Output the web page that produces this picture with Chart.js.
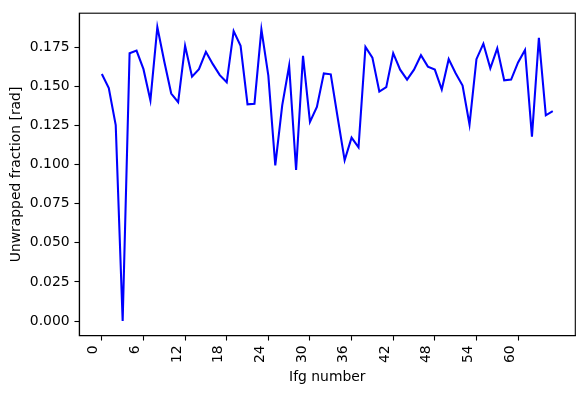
<!DOCTYPE html>
<html>
<head>
<meta charset="utf-8">
<script src="https://cdn.jsdelivr.net/npm/chart.js@4/dist/chart.umd.min.js"></script>
<style>
  html, body { margin: 0; padding: 0; background: #fff; }
  #c { display: block; }
</style>
</head>
<body>
<canvas id="c" width="584" height="393"></canvas>
<script>
// Unwrapped fraction per interferogram (index = ifg number)
const unwrappedFraction = [
  0.158, 0.149, 0.1253, 0.000, 0.1713, 0.1730, 0.1611, 0.1411, 0.188, 0.166,
  0.1455, 0.140, 0.176, 0.1563, 0.1611, 0.1722, 0.1643, 0.1573, 0.1527, 0.1854,
  0.176, 0.1386, 0.139, 0.1865, 0.157, 0.0996, 0.138, 0.1633, 0.0966, 0.1696,
  0.1274, 0.1369, 0.1584, 0.1578, 0.130, 0.1028, 0.1173, 0.1111, 0.1753, 0.1685,
  0.1468, 0.1496, 0.1713, 0.1608, 0.1544, 0.1608, 0.170, 0.1627, 0.1608, 0.1481,
  0.1675, 0.1585, 0.1506, 0.1257, 0.1675, 0.1774, 0.1616, 0.1744, 0.154, 0.1544,
  0.1654, 0.1734, 0.1179, 0.1812, 0.1316, 0.1342
];
const xTickValues = [0, 6, 12, 18, 24, 30, 36, 42, 48, 54, 60];
const yTickValues = [0, 0.025, 0.05, 0.075, 0.1, 0.125, 0.15, 0.175];
const xTitle = 'Ifg number';
const yTitle = 'Unwrapped fraction [rad]';

const points = unwrappedFraction.map((v, i) => ({ x: i, y: v }));

const FONT = { family: 'DejaVu Sans', size: 13.9 };

const framePlugin = {
  id: 'frame',
  afterDatasetsDraw(chart) {
    const { ctx, chartArea: a } = chart;
    ctx.save();
    ctx.strokeStyle = '#000';
    ctx.lineWidth = 1.1;
    ctx.strokeRect(a.left, a.top, a.right - a.left, a.bottom - a.top);
    ctx.restore();
  }
};

new Chart(document.getElementById('c'), {
  type: 'line',
  data: {
    datasets: [{
      data: points,
      borderColor: '#0000ff',
      borderWidth: 2.08,
      pointRadius: 0,
      tension: 0,
      fill: false
    }]
  },
  options: {
    responsive: false,
    animation: false,
    devicePixelRatio: 1,
    layout: { padding: { left: 0, top: 10.7, right: 8.7, bottom: 0 } },
    plugins: { legend: { display: false }, tooltip: { enabled: false } },
    scales: {
      x: {
        type: 'linear',
        min: -3.25,
        max: 68.25,
        afterBuildTicks: s => { s.ticks = xTickValues.map(v => ({ value: v })); },
        afterFit: s => { s.height = 57.3; },
        grid: { drawOnChartArea: false, drawTicks: true, tickLength: 4.86, tickWidth: 1.1, tickColor: '#000' },
        border: { display: true, color: '#000', width: 1.1 },
        ticks: {
          autoSkip: false, minRotation: 90, maxRotation: 90, padding: 4.86,
          labelOffset: -8,
          color: '#000', font: FONT,
          callback: v => String(v)
        },
        title: { display: true, text: xTitle, color: '#000', font: FONT, padding: { top: 0, bottom: 7.7 } }
      },
      y: {
        type: 'linear',
        min: -0.0094,
        max: 0.1969,
        afterBuildTicks: s => { s.ticks = yTickValues.map(v => ({ value: v })); },
        afterFit: s => { s.width = 79.3; },
        grid: { drawOnChartArea: false, drawTicks: true, tickLength: 4.86, tickWidth: 1.1, tickColor: '#000' },
        border: { display: true, color: '#000', width: 1.1 },
        ticks: {
          autoSkip: false, padding: 4.86, color: '#000', font: FONT,
          callback: v => Number(v).toFixed(3)
        },
        title: { display: true, text: yTitle, color: '#000', font: FONT, padding: { top: 7.7, bottom: 0 } }
      }
    }
  },
  plugins: [framePlugin]
});
</script>
</body>
</html>
